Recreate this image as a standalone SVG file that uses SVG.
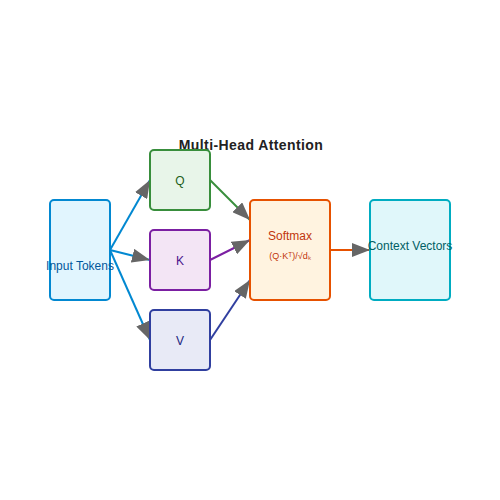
<svg xmlns="http://www.w3.org/2000/svg" width="500" height="500" viewBox="0 0 500 500">
<style>
text{font-family:"Liberation Sans",Arial,sans-serif;text-anchor:middle}
.box{stroke-width:2}
.lbl{font-size:12px}
.c{fill:none;stroke-width:2}
</style>
<defs>
<marker id="ah" markerUnits="userSpaceOnUse" markerWidth="18" markerHeight="14" refX="18" refY="7" orient="auto">
<path d="M0,0 L18,7 L0,14 Z" fill="#666"/>
</marker>
</defs>
<rect width="500" height="500" fill="#fff"/>
<text x="251" y="150" font-size="14" font-weight="bold" fill="#222" letter-spacing="0.4">Multi-Head Attention</text>
<g id="connectors">
<line class="c" x1="110" y1="250" x2="150" y2="180" stroke="#0288d1" marker-end="url(#ah)"/>
<line class="c" x1="110" y1="250" x2="150" y2="260" stroke="#0288d1" marker-end="url(#ah)"/>
<line class="c" x1="110" y1="250" x2="150" y2="340" stroke="#0288d1" marker-end="url(#ah)"/>
<line class="c" x1="210" y1="180" x2="250" y2="220" stroke="#388e3c" marker-end="url(#ah)"/>
<line class="c" x1="210" y1="260" x2="250" y2="240" stroke="#7b1fa2" marker-end="url(#ah)"/>
<line class="c" x1="210" y1="340" x2="250" y2="280" stroke="#303f9f" marker-end="url(#ah)"/>
<line class="c" x1="330" y1="250" x2="370" y2="250" stroke="#e65100" marker-end="url(#ah)"/>
</g>
<g id="input">
<rect class="box" x="50" y="200" width="60" height="100" rx="4" fill="#e1f5fe" stroke="#0288d1"/>
<text class="lbl" x="80" y="270" fill="#01579b">Input Tokens</text>
</g>
<g id="q">
<rect class="box" x="150" y="150" width="60" height="60" rx="4" fill="#e8f5e9" stroke="#388e3c"/>
<text class="lbl" x="180" y="185" fill="#1b5e20">Q</text>
</g>
<g id="k">
<rect class="box" x="150" y="230" width="60" height="60" rx="4" fill="#f3e5f5" stroke="#7b1fa2"/>
<text class="lbl" x="180" y="265" fill="#4a148c">K</text>
</g>
<g id="v">
<rect class="box" x="150" y="310" width="60" height="60" rx="4" fill="#e8eaf6" stroke="#303f9f"/>
<text class="lbl" x="180" y="345" fill="#1a237e">V</text>
</g>
<g id="softmax">
<rect class="box" x="250" y="200" width="80" height="100" rx="4" fill="#fff3e0" stroke="#e65100"/>
<text class="lbl" x="290" y="240" fill="#bf360c">Softmax</text>
<text x="290" y="259" font-size="9" fill="#bf360c">(Q·Kᵀ)/√dₖ</text>
</g>
<g id="context">
<rect class="box" x="370" y="200" width="80" height="100" rx="4" fill="#e0f7fa" stroke="#00acc1"/>
<text class="lbl" x="410" y="250" fill="#006064">Context Vectors</text>
</g>
</svg>
